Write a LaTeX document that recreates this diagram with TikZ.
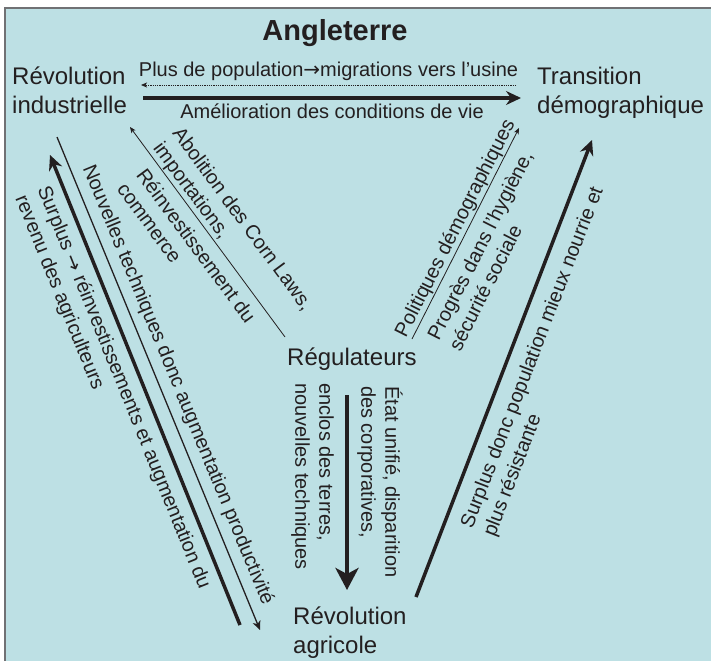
\documentclass[tikz,border=0pt]{standalone}
\usepackage{fontspec}
\setmainfont{Liberation Sans}
\newfontfamily\arrowfont{DejaVu Sans}
\newcommand{\toarrow}{{\arrowfont →}}
\usetikzlibrary{arrows.meta, positioning}
\definecolor{bgblue}{RGB}{189,224,228}
\definecolor{framegray}{RGB}{112,113,116}
\definecolor{ink}{RGB}{35,31,32}
\tikzset{
    big label/.style = {font=\fontsize{24}{29}\selectfont, text=ink, inner sep=0pt, align=left},
    small label/.style = {font=\fontsize{20}{24}\selectfont, text=ink, inner xsep=0pt, align=left},
    thin edge/.style = {draw=ink, line width=0.8pt},
    heavy edge/.style = {draw=ink, line width=3.5pt},
}
\tikzset{
    small tip/.tip = {Stealth[length=6pt, width=5pt, inset=1.5pt]},
    mid tip/.tip = {Stealth[length=9pt, width=8pt, inset=2.5pt]},
    heavy tip/.tip = {Stealth[length=15pt, width=14pt, inset=5pt]},
    huge tip/.tip = {Stealth[length=22pt, width=23pt, inset=6pt]},
}

\begin{document}
\begin{tikzpicture}[x=1pt, y=-1pt]
            \useasboundingbox (0, 0) rectangle (711, 661);
            \fill[bgblue] (5, 8) rectangle (711, 661);
            \draw[framegray, line width=2pt] (5, 661) -- (5, 8) -- (711, 8);

            \node[big label, font=\fontsize{29}{35}\selectfont\bfseries, anchor=base] (ang) at (335, 41) {Angleterre};

            % base of a two-line node is its last line
            \node[big label, anchor=base west] (RI) at (12, 113) {Révolution\\industrielle};
            \node[big label, anchor=base west] (TD) at (537, 113) {Transition\\démographique};
            \node[big label, anchor=base west] (Reg) at (287, 365) {Régulateurs};
            \node[big label, anchor=base west] (RA) at (293, 653) {Révolution\\agricole};

            % free ends of the connectors
            \coordinate (dot a) at (516, 85);
            \coordinate (dot b) at (141, 85);
            \coordinate (vie a) at (143, 98);
            \coordinate (vie b) at (521, 98);
            \coordinate (tech a) at (57, 137);
            \coordinate (tech b) at (260, 630);
            \coordinate (surp a) at (50, 155);
            \coordinate (surp b) at (240, 625);
            \coordinate (corn a) at (130, 127);
            \coordinate (corn b) at (285, 337);
            \coordinate (pol a) at (412, 339);
            \coordinate (pol b) at (519, 128);
            \coordinate (nour a) at (416, 597);
            \coordinate (nour b) at (592, 140);
            \coordinate (etat a) at (347, 395);
            \coordinate (etat b) at (347, 590);

            \draw[thin edge, dash pattern=on 1pt off 0.8pt, -{small tip}] (dot a) -- (dot b)
                node[small label, midway, above, inner ysep=3.8pt] (l pop) {Plus de population\toarrow migrations vers l’usine};
            \draw[heavy edge, -{heavy tip}] (vie a) -- (vie b)
                node[small label, midway, below, inner ysep=4.3pt] (l vie) {Amélioration des conditions de vie};

            \draw[thin edge, line width=1.3pt, -{mid tip}] (tech a) -- (tech b)
                node[small label, sloped, pos=0.071, anchor=south west, inner ysep=7pt] (l tech) {Nouvelles techniques donc augmentation productivité};
            \draw[heavy edge, {heavy tip}-] (surp a) -- (surp b)
                node[small label, sloped, pos=0.05, anchor=north west, inner ysep=8pt] (l surp) {Surplus \toarrow{} réinvestissements et augmentation du\\revenu des agriculteurs};

            \draw[thin edge, {small tip}-] (corn a) -- (corn b)
                node[small label, sloped, pos=0.115, anchor=south west, inner ysep=1pt] (l corn) {Abolition des Corn Laws,\\importations,}
                node[small label, sloped, pos=0.16, anchor=north west, inner ysep=9pt] (l comm) {Réinvestissement du\\commerce};

            \draw[thin edge, -{small tip}] (pol a) -- (pol b)
                node[small label, sloped, midway, above, inner ysep=1pt] (l pol) {Politiques démographiques}
                node[small label, sloped, pos=0.04, anchor=north west, inner ysep=10pt] (l hyg) {Progrès dans l’hygiène,\\sécurité sociale};

            \draw[heavy edge, -{heavy tip}] (nour a) -- (nour b)
                node[small label, sloped, pos=0.167, anchor=north west, inner ysep=12pt] (l nour) {Surplus donc population mieux nourrie et\\plus résistante};

            \draw[heavy edge, line width=4pt, -{huge tip}] (etat a) -- (etat b);
            \node[small label, rotate=-90, anchor=south west, inner ysep=10pt] (l etat) at (347, 386) {État unifié, disparition\\des corporatives,};
            \node[small label, rotate=-90, anchor=north west, inner ysep=13pt] (l encl) at (347, 383) {enclos des terres,\\nouvelles techniques};
        \end{tikzpicture}
\end{document}
